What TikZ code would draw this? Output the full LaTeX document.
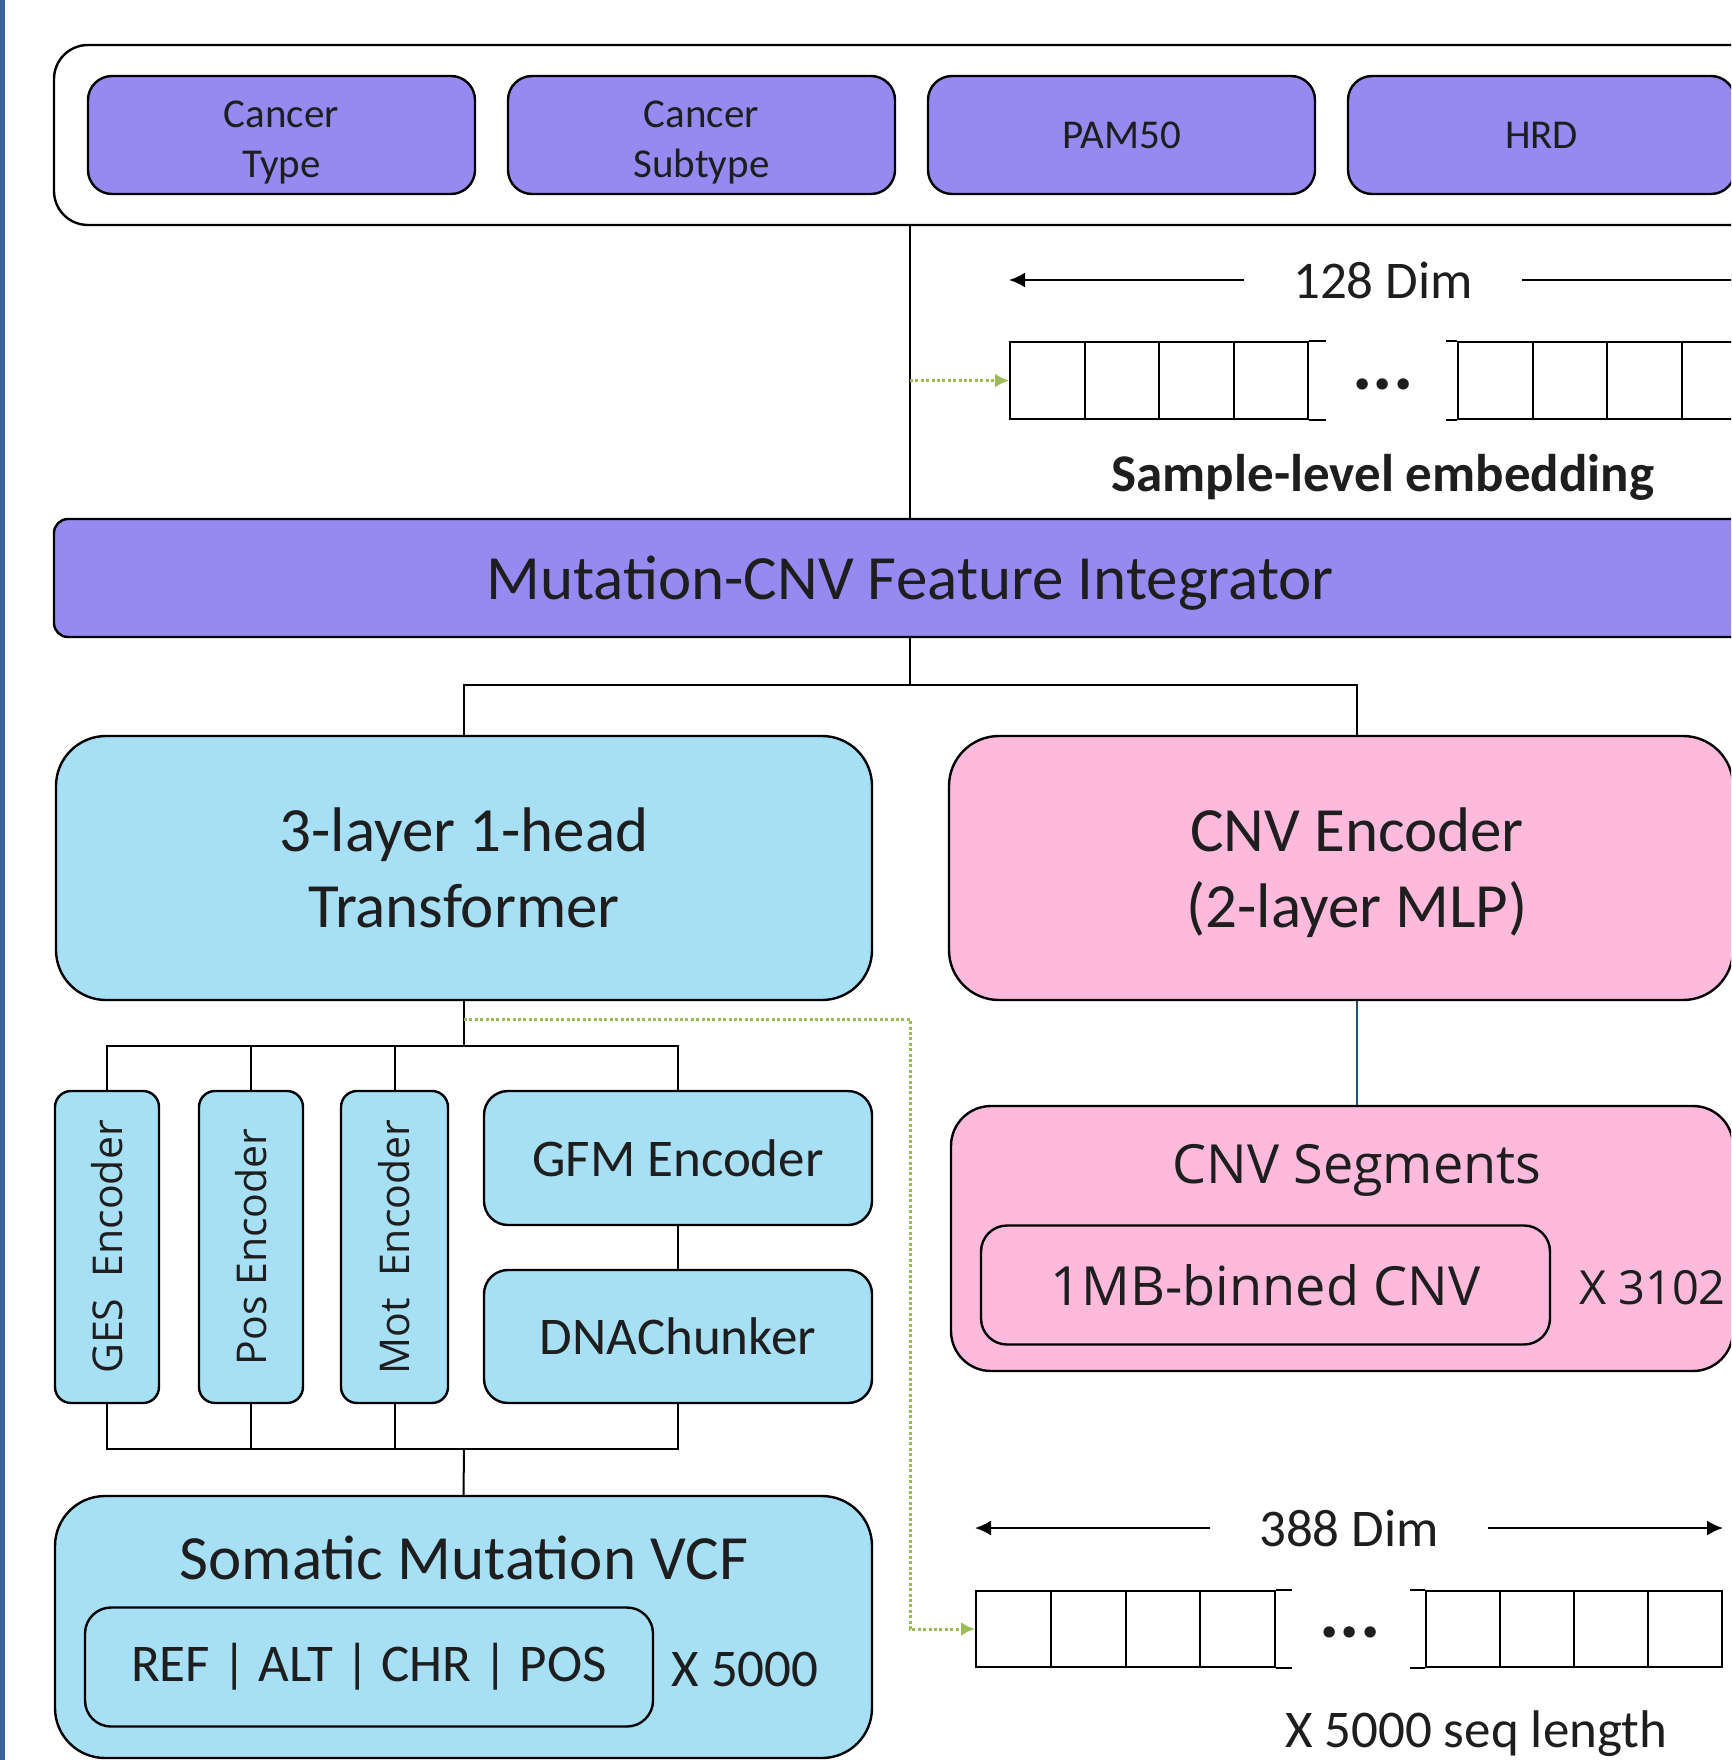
\documentclass[tikz,border=0pt]{standalone}
\usepackage{fontspec}
\setmainfont{Carlito}
\newfontfamily\opensans{Open Sans}
\usetikzlibrary{positioning, arrows.meta}
\definecolor{purp}{RGB}{150,137,239}
\definecolor{lblue}{RGB}{167,223,244}
\definecolor{pinkbox}{RGB}{253,186,221}
\definecolor{dotgreen}{RGB}{155,187,89}
\definecolor{barblue}{RGB}{58,99,152}
\definecolor{linkblue}{RGB}{31,78,121}
\definecolor{ink}{RGB}{30,30,30}
\tikzset{
  box/.style={draw, line width=1.2pt, align=center, inner sep=0pt, text=ink},
  tagbox/.style={box, fill=purp, rounded corners=12pt, minimum width=193.5pt, minimum height=59pt,
    font=\fontsize{20.5}{25}\selectfont},
  bigbox/.style={box, rounded corners=25pt, minimum width=408pt, minimum height=132pt,
    font=\fontsize{31.5}{38}\selectfont},
  encbox/.style={box, fill=lblue, rounded corners=8pt, minimum height=156pt,
    font=\opensans\fontsize{20.5}{24}\selectfont},
  midbox/.style={box, fill=lblue, rounded corners=12pt, minimum width=194pt,
    font=\fontsize{26.5}{32}\selectfont},
  innerbox/.style={box, rounded corners=13pt, minimum width=284pt, minimum height=59.5pt},
  midtxt/.style={text=ink, inner sep=0pt, font=\fontsize{26.5}{32}\selectfont},
  dotstxt/.style={midtxt, font=\bfseries\fontsize{38}{38}\selectfont},
  dimlbl/.style={midtxt, inner xsep=24pt},
  dimarrow/.style={line width=1pt, -{Latex[length=8pt,width=7.5pt]}},
  cell/.style={draw, line width=1pt, inner sep=0pt},
  gline/.style={dotgreen, line width=1.5pt, dash pattern=on 1.5pt off 1.2pt,
    -{Latex[length=7pt,width=7pt]}},
}
\begin{document}
\begin{tikzpicture}[x=0.5pt, y=-0.5pt, line width=1pt]
  \useasboundingbox (0,0) rectangle (1731,1760);
  \clip (0,0) rectangle (1731,1760);
  \fill[barblue] (0,0) rectangle (5,1760);

  \node[box, rounded corners=17pt, minimum width=856pt, minimum height=90pt] (frame) at (910,135) {};
  \node[tagbox] (ctype) at (281.5,135) {\rule{0pt}{21pt}Cancer\\Type};
  \node[tagbox, right=15.3pt of ctype] (csub) {\rule{0pt}{21pt}Cancer\\Subtype};
  \node[tagbox, right=15.3pt of csub] (pam) {PAM50};
  \node[tagbox, right=15.3pt of pam] (hrd) {HRD};

  \node[box, fill=purp, rounded corners=7pt, minimum width=856pt, minimum height=59pt, text depth=0pt,
    font=\fontsize{31.5}{38}\selectfont] (integ) at (910,578) {Mutation-CNV Feature Integrator};

  \node[bigbox, fill=lblue] (trans) at (464,868) {3-layer 1-head\\Transformer};
  \node[bigbox, fill=pinkbox, minimum width=392pt, text depth=0pt] (cnvenc) at (1341,868)
    {\hspace*{16pt}CNV Encoder\\\hspace*{16pt}(2-layer MLP)};

  \node[encbox, minimum width=52pt] (ges) at (107,1247) {\rotatebox{90}{GES\ \ Encoder}};
  \node[encbox, minimum width=52pt, right=18.8pt of ges] (pos) {\rotatebox{90}{Pos Encoder}};
  \node[encbox, minimum width=53.5pt, right=17.8pt of pos] (mot) {\rotatebox{90}{Mot\ \ Encoder}};
  \node[midbox, minimum height=67pt, right=16.8pt of mot.north east, anchor=north west] (gfm) {GFM Encoder};
  \node[midbox, minimum height=66.5pt, below=21.3pt of gfm] (dna) {DNAChunker};

  \node[bigbox, fill=lblue, minimum width=408.5pt, minimum height=131pt] (vcf) at (463.5,1627) {};
  \node[midtxt, font=\fontsize{31.5}{38}\selectfont] (vcftitle) at (464,1558) {Somatic Mutation VCF};
  \node[innerbox, fill=lblue, font=\fontsize{26.5}{32}\selectfont] (fields) at (369,1667) {REF | ALT | CHR | POS};
  \node[midtxt] (nvcf) at (745,1669) {X 5000};

  \node[bigbox, fill=pinkbox, rounded corners=20pt, minimum width=391pt, minimum height=132.5pt] (cnvseg) at (1342,1238.5) {};
  \node[midtxt, font=\opensans\fontsize{27}{32}\selectfont] (segtitle) at (1357,1170) {CNV Segments};
  \node[innerbox, fill=pinkbox, minimum width=284.5pt, font=\opensans\fontsize{27}{32}\selectfont] (bin) at (1265.5,1285) {1MB-binned CNV};
  \node[midtxt, anchor=west, font=\opensans\fontsize{23.5}{30}\selectfont] (nseg) at (1578,1288) {X 3102};

  % sample-level embedding
  \foreach \i in {1,...,4} {
    \node[cell, minimum width=37.25pt, minimum height=38.5pt] (emb\i) at ({1047.25+74.5*(\i-1)},380.5) {};
    \node[cell, minimum width=37.25pt, minimum height=38.5pt] (embr\i) at ({1495.25+74.5*(\i-1)},380.5) {};
  }
  \draw (emb4.north east) -- ++(17,0) (emb4.south east) -- ++(17,0);
  \draw (embr1.north west) -- ++(-11,0) (embr1.south west) -- ++(-11,0);
  \node[dotstxt] (dotsA) at (1383,384) {...};
  \node[midtxt, font=\bfseries\fontsize{26.5}{32}\selectfont] (embname) at (1383,477) {Sample-level embedding};
  \node[dimlbl] (dimA) at (1383,280) {128 Dim};
  \draw[dimarrow] (dimA.west) -- (emb1.west |- dimA);
  \draw[dimarrow] (dimA.east) -- (embr4.east |- dimA);

  % sequence embedding
  \foreach \i in {1,...,4} {
    \node[cell, minimum width=37.4pt, minimum height=38pt] (seq\i) at ({1013.4+74.8*(\i-1)},1629) {};
    \node[cell, minimum width=37pt, minimum height=38pt] (seqr\i) at ({1463+74*(\i-1)},1629) {};
  }
  \draw (seq4.north east) -- ++(16,0) (seq4.south east) -- ++(16,0);
  \draw (seqr1.north west) -- ++(-15,0) (seqr1.south west) -- ++(-15,0);
  \node[dotstxt] (dotsB) at (1350,1632) {...};
  \node[midtxt] (seqlen) at (1476,1734) {X 5000 seq length};
  \node[dimlbl] (dimB) at (1349,1528) {388 Dim};
  \draw[dimarrow] (dimB.west) -- (seq1.west |- dimB);
  \draw[dimarrow] (dimB.east) -- (seqr4.east |- dimB);

  % connectors
  \coordinate (bus0) at (910,685);
  \coordinate (tap) at (464,1019);
  \coordinate (bus1) at (464,1046);
  \coordinate (bus2) at (464,1449);
  \draw (frame.south) -- (integ.north);
  \draw (integ.south) -- (bus0);
  \draw (trans.north) |- (bus0) -| (segtitle |- cnvenc.north);
  \draw[linkblue, line width=0.8pt] (segtitle |- cnvenc.south) -- (segtitle |- cnvseg.north);
  \draw (trans.south) -- (bus1);
  \draw (ges.north) |- (bus1) -| (gfm.north);
  \draw (pos.north) -- (pos.north |- bus1) (mot.north) -- (mot.north |- bus1);
  \draw (gfm) -- (dna);
  \draw (ges.south) |- (bus2) -| (dna.south);
  \draw (pos.south) -- (pos.south |- bus2) (mot.south) -- (mot.south |- bus2);
  \draw (bus2) -- (vcf.north);
  \draw[gline] (frame.south |- emb1.west) -- (emb1.west);
  \draw[gline] (tap) -| (frame.south |- seq1.west) -- (seq1.west);
\end{tikzpicture}
\end{document}
